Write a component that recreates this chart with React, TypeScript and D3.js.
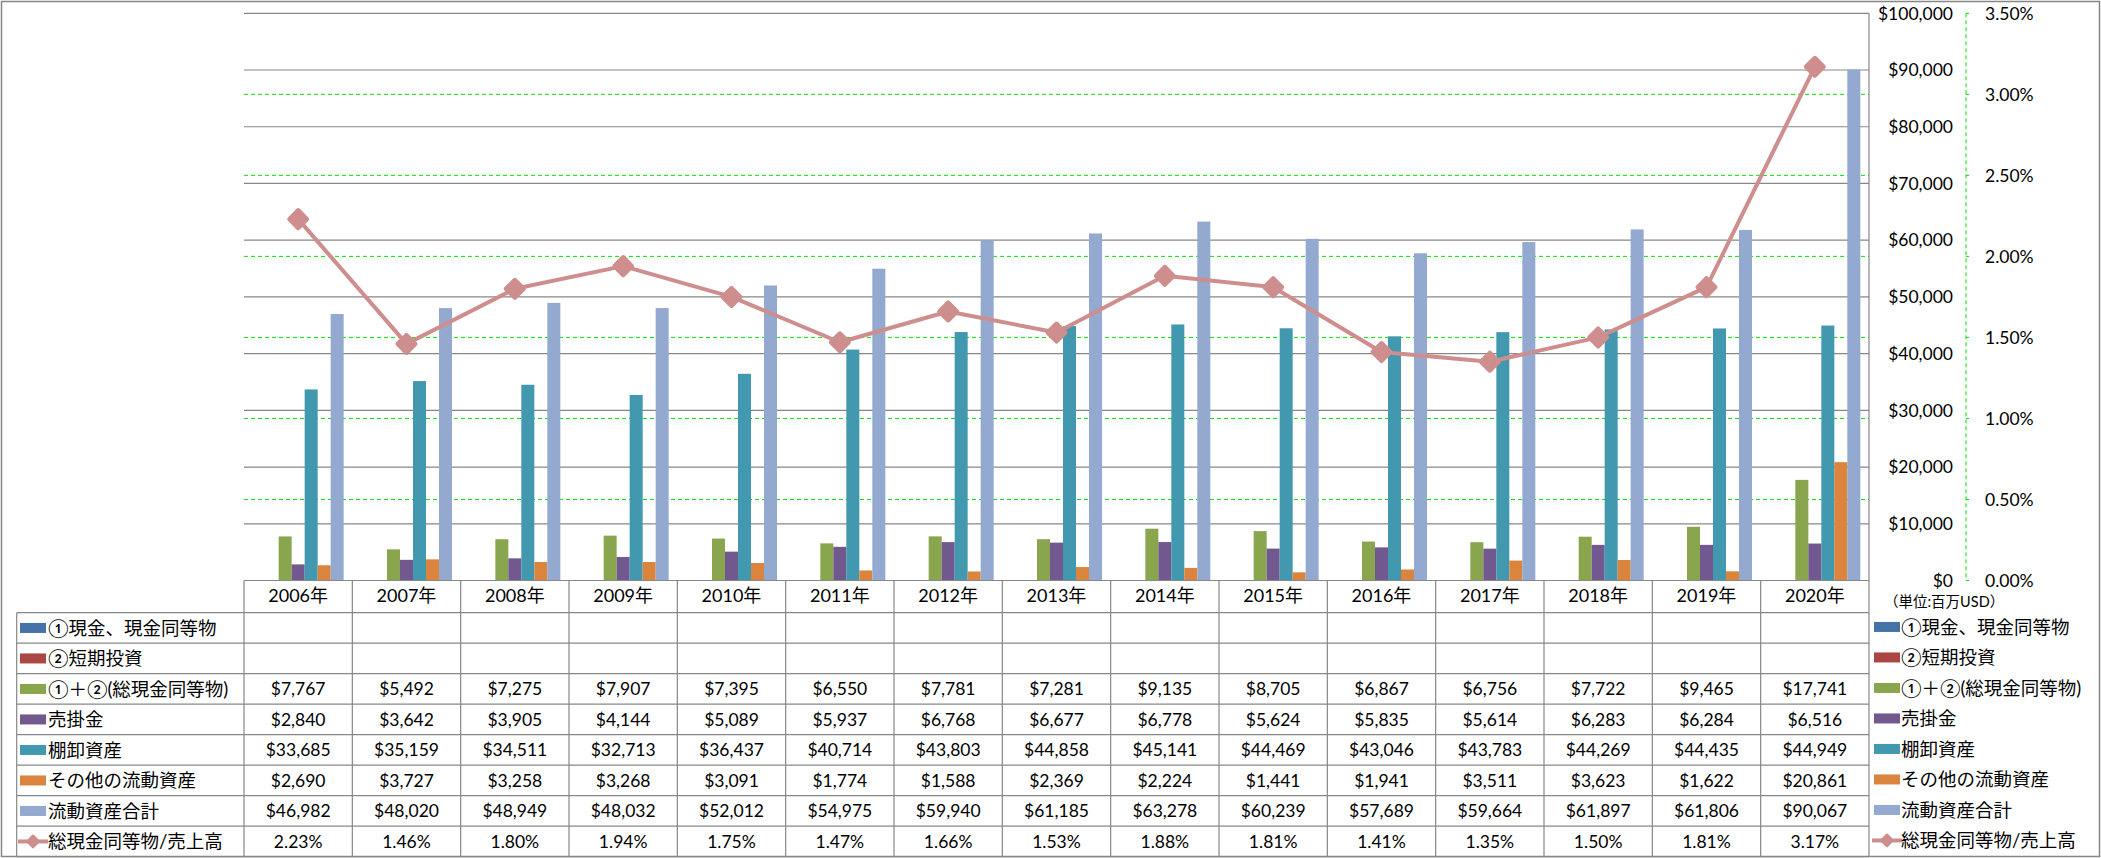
import * as d3 from "d3";

const years = ["2006", "2007", "2008", "2009", "2010", "2011", "2012", "2013", "2014", "2015", "2016", "2017", "2018", "2019", "2020"];

const cashEq: (number | null)[] = [null, null, null, null, null, null, null, null, null, null, null, null, null, null, null];
const shortInvest: (number | null)[] = [null, null, null, null, null, null, null, null, null, null, null, null, null, null, null];
const totalCash = [7767, 5492, 7275, 7907, 7395, 6550, 7781, 7281, 9135, 8705, 6867, 6756, 7722, 9465, 17741];
const receivables = [2840, 3642, 3905, 4144, 5089, 5937, 6768, 6677, 6778, 5624, 5835, 5614, 6283, 6284, 6516];
const inventory = [33685, 35159, 34511, 32713, 36437, 40714, 43803, 44858, 45141, 44469, 43046, 43783, 44269, 44435, 44949];
const otherCurrent = [2690, 3727, 3258, 3268, 3091, 1774, 1588, 2369, 2224, 1441, 1941, 3511, 3623, 1622, 20861];
const totalCurrent = [46982, 48020, 48949, 48032, 52012, 54975, 59940, 61185, 63278, 60239, 57689, 59664, 61897, 61806, 90067];
const cashRatio = [2.23, 1.46, 1.8, 1.94, 1.75, 1.47, 1.66, 1.53, 1.88, 1.81, 1.41, 1.35, 1.5, 1.81, 3.17];

const leftTicks = [0, 10000, 20000, 30000, 40000, 50000, 60000, 70000, 80000, 90000, 100000];
const rightTicks = [0, 0.5, 1, 1.5, 2, 2.5, 3, 3.5];

const barSeries = [
  { name: "①現金、現金同等物", color: "#4572A7", values: cashEq },
  { name: "②短期投資", color: "#AA4643", values: shortInvest },
  { name: "①＋②(総現金同等物)", color: "#89A54E", values: totalCash },
  { name: "売掛金", color: "#71588F", values: receivables },
  { name: "棚卸資産", color: "#4198AF", values: inventory },
  { name: "その他の流動資産", color: "#DB843D", values: otherCurrent },
  { name: "流動資産合計", color: "#93A9CF", values: totalCurrent },
];
const lineName = "総現金同等物/売上高";
const lineColor = "#CF8E8E";

const W = 2101;
const H = 858;
const plotLeft = 244;
const plotRight = 1869;
const plotTop = 13.3;
const plotBottom = 580.5;
const tableTop = 612.7;
const rowH = 30.5;
const tableLeft = 16.7;
const gridGray = "#878787";
const green = "#00E400";
const font = "Lato, 'Noto Sans CJK JP', sans-serif";

const fmtMoney = d3.format("$,");

const Diamond = ({ x, y, r }: { x: number; y: number; r: number }) => {
  const s = r * 1.41;
  return (
    <rect
      x={-s / 2}
      y={-s / 2}
      width={s}
      height={s}
      rx={r * 0.2}
      fill={lineColor}
      transform={`translate(${x},${y}) rotate(45)`}
    />
  );
};

const App = () => {
  const x = d3.scaleBand<string>().domain(years).range([plotLeft, plotRight]).padding(0);
  const xs = d3
    .scaleBand<string>()
    .domain(barSeries.map((s) => s.name))
    .range([0, x.bandwidth()])
    .paddingInner(0)
    .paddingOuter(0.667);
  const yL = d3.scaleLinear().domain([0, 100000]).range([plotBottom, plotTop]);
  const yR = d3.scaleLinear().domain([0, 3.5]).range([plotBottom, plotTop]);

  const linePath = d3
    .line<number>()
    .x((_, i) => (x(years[i]) ?? 0) + x.bandwidth() / 2)
    .y((d) => yR(d))(cashRatio);

  const rows = [
    ...barSeries.map((s) => ({
      name: s.name,
      color: s.color,
      isLine: false,
      cells: s.values.map((v) => (v == null ? "" : fmtMoney(v))),
    })),
    { name: lineName, color: lineColor, isLine: true, cells: cashRatio.map((v) => v.toFixed(2) + "%") },
  ];

  const tableBottom = tableTop + rowH * rows.length;

  const legendKey = (kx: number, cy: number, r: (typeof rows)[number]) =>
    r.isLine ? (
      <g>
        <line x1={kx - 2} x2={kx + 28} y1={cy} y2={cy} stroke={lineColor} strokeWidth={4} />
        <Diamond x={kx + 13} y={cy} r={7.5} />
      </g>
    ) : (
      <rect x={kx} y={cy - 5} width={26} height={10} fill={r.color} />
    );

  return (
    <svg width={W} height={H} style={{ position: "absolute", left: 0, top: 0, background: "#fff" }} fontFamily={font}>
      <rect x={1.5} y={1.5} width={W - 3} height={H - 3} fill="#fff" stroke="#868686" strokeWidth={1.5} />

      {/* secondary gridlines */}
      {rightTicks
        .filter((t) => t > 0 && t < 3.5)
        .map((t) => (
          <line key={"g" + t} x1={plotLeft} x2={plotRight} y1={yR(t)} y2={yR(t)} stroke={green} strokeDasharray="4 3" />
        ))}
      {/* primary gridlines */}
      {leftTicks
        .filter((t) => t > 0)
        .map((t) => (
          <line key={"p" + t} x1={plotLeft} x2={plotRight} y1={yL(t)} y2={yL(t)} stroke={gridGray} strokeWidth={1.2} />
        ))}

      {/* bars */}
      {barSeries.map((s) => (
        <g key={s.name} fill={s.color}>
          {s.values.map((v, i) =>
            v == null ? null : (
              <rect
                key={i}
                x={(x(years[i]) ?? 0) + (xs(s.name) ?? 0)}
                y={yL(v)}
                width={xs.bandwidth()}
                height={yL(0) - yL(v)}
              />
            )
          )}
        </g>
      ))}

      {/* line series */}
      <path d={linePath ?? ""} fill="none" stroke={lineColor} strokeWidth={4} strokeLinejoin="round" />
      {cashRatio.map((v, i) => (
        <Diamond key={i} x={(x(years[i]) ?? 0) + x.bandwidth() / 2} y={yR(v)} r={12} />
      ))}

      {/* primary axis */}
      <line x1={plotRight} x2={plotRight} y1={plotTop} y2={tableBottom} stroke={gridGray} strokeWidth={1.2} />
      {leftTicks.map((t) => (
        <text key={"lt" + t} x={1953} y={yL(t)} dy="0.36em" textAnchor="end" fontSize={17.5} fill="#000">
          {fmtMoney(t)}
        </text>
      ))}

      {/* secondary axis */}
      <line x1={1966} x2={1966} y1={plotTop} y2={plotBottom} stroke={green} strokeDasharray="4 3" />
      {rightTicks.map((t) => (
        <g key={"rt" + t}>
          <line x1={1966} x2={1969} y1={yR(t)} y2={yR(t)} stroke={green} />
          <text x={1985} y={yR(t)} dy="0.36em" fontSize={17.5} fill="#000">
            {t.toFixed(2) + "%"}
          </text>
        </g>
      ))}
      <text x={1884} y={602} dy="0.36em" fontSize={14.5} fill="#000">
        （単位:百万USD）
      </text>

      {/* data table */}
      <line x1={plotLeft} x2={plotRight} y1={plotBottom} y2={plotBottom} stroke={gridGray} strokeWidth={1.2} />
      {years.map((yr, i) => (
        <g key={yr}>
          <line
            x1={x(yr) ?? 0}
            x2={x(yr) ?? 0}
            y1={plotBottom}
            y2={tableBottom}
            stroke={gridGray}
            strokeWidth={1.2}
          />
          <text
            x={(x(yr) ?? 0) + x.bandwidth() / 2}
            y={596}
            dy="0.36em"
            textAnchor="middle"
            fontSize={18}
            fill="#000"
          >
            {yr + "年"}
          </text>
          {rows.map((r, j) => (
            <text
              key={j}
              x={(x(yr) ?? 0) + x.bandwidth() / 2}
              y={tableTop + rowH * j + rowH / 2}
              dy="0.36em"
              textAnchor="middle"
              fontSize={17.5}
              fill="#000"
            >
              {r.cells[i]}
            </text>
          ))}
        </g>
      ))}
      <line x1={tableLeft} x2={tableLeft} y1={tableTop} y2={tableBottom} stroke={gridGray} strokeWidth={1.2} />
      {rows.map((r, j) => {
        const cy = tableTop + rowH * j + rowH / 2;
        return (
          <g key={"row" + j}>
            <line
              x1={tableLeft}
              x2={plotRight}
              y1={tableTop + rowH * j}
              y2={tableTop + rowH * j}
              stroke={gridGray}
              strokeWidth={1.2}
            />
            {legendKey(20, cy, r)}
            <text x={48} y={cy} dy="0.36em" fontSize={18.5} fill="#000">
              {r.name}
            </text>
            {legendKey(1874, cy - 1, r)}
            <text x={1901} y={cy - 1} dy="0.36em" fontSize={18.5} fill="#000">
              {r.name}
            </text>
          </g>
        );
      })}
      <line x1={tableLeft} x2={plotRight} y1={tableBottom} y2={tableBottom} stroke={gridGray} strokeWidth={1.2} />
    </svg>
  );
};

export default App;
